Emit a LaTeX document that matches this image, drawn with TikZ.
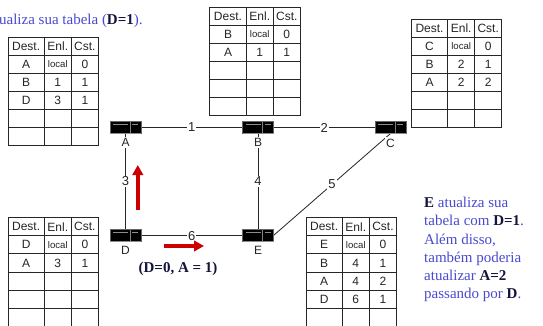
\documentclass[tikz,border=0pt]{standalone}
\usepackage{fontspec}
\setmainfont{Liberation Serif}
\setsansfont{Liberation Sans}
\usetikzlibrary{arrows.meta,backgrounds}
\definecolor{capblue}{HTML}{4A4AD0}
\definecolor{capdark}{HTML}{14143C}
\definecolor{arrowred}{HTML}{CC0000}
\newcommand{\loc}{{\fontsize{9.6}{10}\selectfont local}}
\newcommand{\capb}[1]{\textcolor{capdark}{\textbf{#1}}}
\tikzset{
  cell/.style={font=\sffamily\fontsize{12}{13}\selectfont, text=black!85, inner sep=0pt, anchor=center},
  grid/.style={draw=black!85, line width=0.9pt},
  routerbox/.style={draw=black!60, line width=0.4pt, fill=black, minimum width=31pt, minimum height=12pt, inner sep=0pt, outer sep=0pt},
  routerhi/.style={draw=black!45, line width=0.5pt},
  routersep/.style={draw=black!50, line width=0.6pt},
  rlabel/.style={font=\sffamily\fontsize{12}{13}\selectfont, text=black!85, fill=white, inner sep=1.5pt},
  link/.style={draw=black!85, line width=0.8pt},
  weight/.style={font=\sffamily\fontsize{13}{14}\selectfont, text=black!85, fill=white, inner sep=1pt},
  redarrow/.style={draw=arrowred, line width=4.6pt, -{Triangle[length=10pt,width=10.5pt]}},
  caption/.style={font=\rmfamily\fontsize{15}{18.2}\selectfont, text=capblue, inner sep=0pt}
}
% name, x0..x3, y0, row height, rows
\newcommand{\rtable}[8]{%
  \foreach \r in {0,...,6}{\draw[grid] (#2,{#6+\r*#7}) -- (#5,{#6+\r*#7});}
  \foreach \c in {#2,#3,#4,#5}{\draw[grid] (\c,#6) -- (\c,{#6+6*#7});}
  \node[cell] (#1h1) at ({(#2+#3)/2},{#6+0.5*#7}) {Dest.};
  \node[cell] (#1h2) at ({(#3+#4)/2},{#6+0.5*#7}) {Enl.};
  \node[cell] (#1h3) at ({(#4+#5)/2},{#6+0.5*#7}) {Cst.};
  \foreach \p/\q/\s [count=\i] in {#8}{
    \node[cell] (#1r\i a) at ({(#2+#3)/2},{#6+(\i+0.5)*#7}) {\p};
    \node[cell] (#1r\i b) at ({(#3+#4)/2},{#6+(\i+0.5)*#7}) {\q};
    \node[cell] (#1r\i c) at ({(#4+#5)/2},{#6+(\i+0.5)*#7}) {\s};
  }
}
\newcommand{\router}[3]{%
  \node[routerbox] (#1) at (#2,#3) {};
  \draw[routerhi] ([xshift=3pt,yshift=-2.5pt]#1.north west) -- ([xshift=18pt,yshift=-2.5pt]#1.north west);
  \draw[routerhi] ([xshift=22pt,yshift=-2.5pt]#1.north west) -- ([xshift=-3pt,yshift=-2.5pt]#1.north east);
  \draw[routersep] ([xshift=20pt]#1.north west) -- ([xshift=20pt]#1.south west);
  \draw[draw=black!45,line width=0.8pt] ([yshift=0.6pt]#1.south west) -- ([yshift=0.6pt]#1.south east);
}
\begin{document}
\begin{tikzpicture}[x=1pt,y=-1pt]
\path[use as bounding box] (0,0) rectangle (543,325);
\clip (0,0) rectangle (543,325);

\router{ra}{125.5}{127.5}
\router{rb}{258}{127.5}
\router{rc}{390.5}{127.5}
\router{rd}{125.5}{235.5}
\router{re}{258}{235.5}

\begin{pgfonlayer}{background}
\fill[white] (0,0) rectangle (543,325);
\draw[link] (ra) -- node[weight,pos=0.5]{1} (rb);
\draw[link] (rb) -- node[weight,pos=0.5]{2} (rc);
\draw[link] (ra) -- node[weight,pos=0.5]{3} (rd);
\draw[link] (rb) -- node[weight,pos=0.5]{4} (re);
\draw[link] (rc.south) -- node[weight,pos=0.5]{5} (re.east);
\draw[link] (rd) -- node[weight,pos=0.5,yshift=-1pt]{6} (re);
\node[rlabel] (la) at (125.5,142.7) {A};
\node[rlabel] (lb) at (258,142.7) {B};
\node[rlabel] (lc) at (390.5,143) {C};
\node[rlabel] (ld) at (125.5,250.5) {D};
\node[rlabel] (le) at (258,250.5) {E};
\end{pgfonlayer}

\rtable{ta}{8}{44.3}{71.3}{98.5}{37}{18.1}{A/\loc/0,B/1/1,D/3/1}
\rtable{tb}{209.8}{246.2}{273.3}{300.3}{7.3}{18.1}{B/\loc/0,A/1/1}
\rtable{tc}{411.4}{447.7}{474.7}{501.7}{19.3}{18}{C/\loc/0,B/2/1,A/2/2}
\rtable{td}{8}{44.3}{71.3}{98.5}{217.7}{18.1}{D/\loc/0,A/3/1}
\rtable{te}{306}{342.3}{369.3}{396.6}{217.7}{18.1}{E/\loc/0,B/4/1,A/4/2,D/6/1}

\coordinate (u1) at (137.8,210);
\coordinate (u2) at (137.8,165);
\draw[redarrow] (u1) -- (u2);
\coordinate (v1) at (163.5,246);
\coordinate (v2) at (204,246);
\draw[redarrow] (v1) -- (v2);

\node[caption,anchor=east] (top) at (142.8,20.5) {ualiza sua tabela (\capb{D=1}).};
\node[font=\rmfamily\bfseries\fontsize{15}{16}\selectfont,text=capdark,inner sep=0pt] (msg) at (178,269) {(D=0, A = 1)};
\node[caption,anchor=north west,align=left] (note) at (424,197) {\capb{E} atualiza sua\\tabela com \capb{D=1}.\\Além disso,\\também poderia\\atualizar \capb{A=2}\\passando por \capb{D}.};
\end{tikzpicture}
\end{document}
